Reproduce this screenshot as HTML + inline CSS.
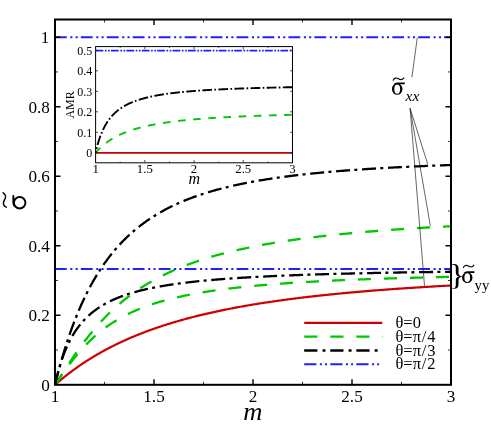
<!DOCTYPE html>
<html><head><meta charset="utf-8"><title>chart</title>
<style>html,body{margin:0;padding:0;background:#fff}svg{display:block;will-change:transform;opacity:0.999}</style></head>
<body>
<svg width="491" height="434" viewBox="0 0 491 434">
<rect width="100%" height="100%" fill="#fff"/>
<defs><clipPath id="cm"><rect x="55.00" y="19.50" width="396.00" height="365.30"/></clipPath>
<clipPath id="ci"><rect x="95.60" y="46.60" width="197.40" height="116.20"/></clipPath></defs>
<g clip-path="url(#cm)" fill="none" stroke-linecap="butt" stroke-linejoin="round">
<path d="M55.00,384.80 L55.03,384.78 L55.08,384.73 L55.16,384.66 L55.25,384.58 L55.36,384.49 L55.48,384.38 L55.61,384.26 L55.76,384.14 L55.91,384.00 L56.08,383.86 L56.26,383.70 L56.45,383.54 L56.65,383.37 L56.85,383.19 L57.07,383.00 L57.30,382.81 L57.53,382.61 L57.77,382.40 L58.02,382.19 L58.28,381.97 L58.55,381.74 L58.82,381.51 L59.10,381.27 L59.39,381.03 L59.69,380.78 L59.99,380.53 L60.30,380.27 L60.62,380.00 L60.95,379.73 L61.28,379.46 L61.62,379.18 L61.96,378.90 L62.31,378.61 L62.67,378.32 L63.03,378.03 L63.40,377.73 L63.78,377.42 L64.16,377.12 L64.55,376.81 L64.95,376.49 L65.35,376.17 L65.75,375.85 L66.17,375.53 L66.59,375.20 L67.01,374.87 L67.44,374.54 L67.88,374.20 L68.32,373.86 L68.76,373.52 L69.22,373.17 L69.67,372.82 L70.14,372.47 L70.60,372.12 L71.08,371.77 L71.56,371.41 L72.04,371.05 L72.53,370.69 L73.03,370.32 L73.53,369.96 L74.03,369.59 L74.54,369.22 L75.06,368.85 L75.58,368.48 L76.10,368.10 L76.63,367.73 L77.17,367.35 L77.70,366.97 L78.25,366.59 L78.80,366.21 L79.35,365.82 L79.91,365.44 L80.48,365.06 L81.04,364.67 L81.62,364.28 L82.20,363.89 L82.78,363.50 L83.37,363.11 L83.96,362.72 L84.55,362.33 L85.15,361.94 L85.76,361.54 L86.37,361.15 L86.98,360.75 L87.60,360.36 L88.23,359.96 L88.85,359.57 L89.48,359.17 L90.12,358.78 L90.76,358.38 L91.41,357.98 L92.06,357.58 L92.71,357.19 L93.37,356.79 L94.03,356.39 L94.70,355.99 L95.37,355.60 L96.04,355.20 L96.72,354.80 L97.40,354.40 L98.09,354.01 L98.78,353.61 L99.48,353.21 L100.18,352.81 L100.88,352.42 L101.59,352.02 L102.30,351.63 L103.02,351.23 L103.74,350.84 L104.46,350.44 L105.19,350.05 L105.92,349.65 L106.66,349.26 L107.40,348.87 L108.14,348.48 L108.89,348.09 L109.64,347.70 L110.40,347.31 L111.16,346.92 L111.92,346.53 L112.69,346.14 L113.46,345.75 L114.23,345.37 L115.01,344.98 L115.80,344.60 L116.58,344.22 L117.37,343.83 L118.17,343.45 L118.96,343.07 L119.77,342.69 L120.57,342.31 L121.38,341.94 L122.19,341.56 L123.01,341.18 L123.83,340.81 L124.65,340.43 L125.48,340.06 L126.31,339.69 L127.14,339.32 L127.98,338.95 L128.83,338.58 L129.67,338.22 L130.52,337.85 L131.37,337.49 L132.23,337.12 L133.09,336.76 L133.95,336.40 L134.82,336.04 L135.69,335.68 L136.56,335.33 L137.44,334.97 L138.32,334.62 L139.21,334.26 L140.10,333.91 L140.99,333.56 L141.88,333.21 L142.78,332.86 L143.68,332.52 L144.59,332.17 L145.50,331.83 L146.41,331.48 L147.33,331.14 L148.24,330.80 L149.17,330.47 L150.09,330.13 L151.02,329.79 L151.96,329.46 L152.89,329.13 L153.83,328.79 L154.77,328.46 L155.72,328.14 L156.67,327.81 L157.62,327.48 L158.58,327.16 L159.54,326.84 L160.50,326.52 L161.47,326.20 L162.44,325.88 L163.41,325.56 L164.39,325.25 L165.37,324.93 L166.35,324.62 L167.33,324.31 L168.32,324.00 L169.32,323.69 L170.31,323.38 L171.31,323.08 L172.31,322.77 L173.32,322.47 L174.33,322.17 L175.34,321.87 L176.35,321.57 L177.37,321.28 L178.39,320.98 L179.42,320.69 L180.45,320.40 L181.48,320.11 L182.51,319.82 L183.55,319.53 L184.59,319.24 L185.63,318.96 L186.68,318.68 L187.73,318.40 L188.78,318.12 L189.84,317.84 L190.90,317.56 L191.96,317.28 L193.02,317.01 L194.09,316.74 L195.16,316.46 L196.24,316.19 L197.32,315.93 L198.40,315.66 L199.48,315.39 L200.57,315.13 L201.66,314.87 L202.75,314.61 L203.85,314.35 L204.94,314.09 L206.05,313.83 L207.15,313.57 L208.26,313.32 L209.37,313.07 L210.48,312.82 L211.60,312.57 L212.72,312.32 L213.84,312.07 L214.97,311.82 L216.10,311.58 L217.23,311.34 L218.37,311.09 L219.50,310.85 L220.65,310.61 L221.79,310.38 L222.94,310.14 L224.09,309.91 L225.24,309.67 L226.39,309.44 L227.55,309.21 L228.71,308.98 L229.88,308.75 L231.05,308.52 L232.22,308.30 L233.39,308.07 L234.57,307.85 L235.74,307.63 L236.93,307.41 L238.11,307.19 L239.30,306.97 L240.49,306.76 L241.68,306.54 L242.88,306.33 L244.08,306.11 L245.28,305.90 L246.48,305.69 L247.69,305.48 L248.90,305.28 L250.12,305.07 L251.33,304.86 L252.55,304.66 L253.77,304.46 L255.00,304.25 L256.22,304.05 L257.45,303.86 L258.69,303.66 L259.92,303.46 L261.16,303.26 L262.40,303.07 L263.65,302.88 L264.90,302.68 L266.15,302.49 L267.40,302.30 L268.65,302.12 L269.91,301.93 L271.17,301.74 L272.44,301.56 L273.70,301.37 L274.97,301.19 L276.24,301.01 L277.52,300.83 L278.80,300.65 L280.08,300.47 L281.36,300.29 L282.64,300.11 L283.93,299.94 L285.22,299.76 L286.52,299.59 L287.81,299.42 L289.11,299.25 L290.42,299.08 L291.72,298.91 L293.03,298.74 L294.34,298.57 L295.65,298.41 L296.97,298.24 L298.28,298.08 L299.61,297.92 L300.93,297.75 L302.26,297.59 L303.58,297.43 L304.92,297.28 L306.25,297.12 L307.59,296.96 L308.93,296.80 L310.27,296.65 L311.61,296.50 L312.96,296.34 L314.31,296.19 L315.66,296.04 L317.02,295.89 L318.38,295.74 L319.74,295.59 L321.10,295.44 L322.47,295.30 L323.84,295.15 L325.21,295.01 L326.58,294.86 L327.96,294.72 L329.34,294.58 L330.72,294.44 L332.10,294.30 L333.49,294.16 L334.88,294.02 L336.27,293.88 L337.66,293.74 L339.06,293.61 L340.46,293.47 L341.86,293.34 L343.27,293.21 L344.68,293.07 L346.09,292.94 L347.50,292.81 L348.91,292.68 L350.33,292.55 L351.75,292.42 L353.17,292.29 L354.60,292.17 L356.03,292.04 L357.46,291.92 L358.89,291.79 L360.33,291.67 L361.77,291.54 L363.21,291.42 L364.65,291.30 L366.09,291.18 L367.54,291.06 L368.99,290.94 L370.45,290.82 L371.90,290.70 L373.36,290.59 L374.82,290.47 L376.29,290.36 L377.75,290.24 L379.22,290.13 L380.69,290.01 L382.16,289.90 L383.64,289.79 L385.12,289.68 L386.60,289.57 L388.08,289.46 L389.57,289.35 L391.06,289.24 L392.55,289.13 L394.04,289.02 L395.53,288.92 L397.03,288.81 L398.53,288.70 L400.04,288.60 L401.54,288.50 L403.05,288.39 L404.56,288.29 L406.07,288.19 L407.59,288.09 L409.11,287.99 L410.63,287.89 L412.15,287.79 L413.67,287.69 L415.20,287.59 L416.73,287.49 L418.26,287.39 L419.80,287.30 L421.34,287.20 L422.88,287.11 L424.42,287.01 L425.96,286.92 L427.51,286.82 L429.06,286.73 L430.61,286.64 L432.16,286.55 L433.72,286.45 L435.28,286.36 L436.84,286.27 L438.40,286.18 L439.97,286.09 L441.54,286.01 L443.11,285.92 L444.68,285.83 L446.26,285.74 L447.84,285.66 L449.42,285.57 L451.00,285.49" stroke="#cc0000" stroke-width="2.2"/>
<path d="M55.00,384.80 L55.03,384.76 L55.08,384.68 L55.16,384.56 L55.25,384.42 L55.36,384.26 L55.48,384.08 L55.61,383.87 L55.76,383.65 L55.91,383.42 L56.08,383.16 L56.26,382.89 L56.45,382.60 L56.65,382.30 L56.85,381.98 L57.07,381.65 L57.30,381.31 L57.53,380.95 L57.77,380.58 L58.02,380.20 L58.28,379.80 L58.55,379.39 L58.82,378.97 L59.10,378.54 L59.39,378.09 L59.69,377.64 L59.99,377.17 L60.30,376.69 L60.62,376.20 L60.95,375.70 L61.28,375.19 L61.62,374.67 L61.96,374.14 L62.31,373.59 L62.67,373.04 L63.03,372.48 L63.40,371.91 L63.78,371.33 L64.16,370.75 L64.55,370.15 L64.95,369.54 L65.35,368.93 L65.75,368.31 L66.17,367.68 L66.59,367.04 L67.01,366.40 L67.44,365.74 L67.88,365.08 L68.32,364.42 L68.76,363.74 L69.22,363.06 L69.67,362.37 L70.14,361.68 L70.60,360.98 L71.08,360.28 L71.56,359.57 L72.04,358.85 L72.53,358.13 L73.03,357.40 L73.53,356.67 L74.03,355.93 L74.54,355.19 L75.06,354.45 L75.58,353.70 L76.10,352.95 L76.63,352.19 L77.17,351.43 L77.70,350.67 L78.25,349.91 L78.80,349.14 L79.35,348.37 L79.91,347.59 L80.48,346.82 L81.04,346.04 L81.62,345.26 L82.20,344.48 L82.78,343.69 L83.37,342.91 L83.96,342.12 L84.55,341.34 L85.15,340.55 L85.76,339.76 L86.37,338.97 L86.98,338.18 L87.60,337.39 L88.23,336.60 L88.85,335.81 L89.48,335.02 L90.12,334.23 L90.76,333.44 L91.41,332.65 L92.06,331.87 L92.71,331.08 L93.37,330.30 L94.03,329.51 L94.70,328.73 L95.37,327.95 L96.04,327.17 L96.72,326.39 L97.40,325.61 L98.09,324.84 L98.78,324.07 L99.48,323.30 L100.18,322.53 L100.88,321.76 L101.59,321.00 L102.30,320.24 L103.02,319.48 L103.74,318.73 L104.46,317.97 L105.19,317.22 L105.92,316.48 L106.66,315.73 L107.40,314.99 L108.14,314.25 L108.89,313.52 L109.64,312.79 L110.40,312.06 L111.16,311.33 L111.92,310.61 L112.69,309.90 L113.46,309.18 L114.23,308.47 L115.01,307.76 L115.80,307.06 L116.58,306.36 L117.37,305.67 L118.17,304.97 L118.96,304.29 L119.77,303.60 L120.57,302.92 L121.38,302.25 L122.19,301.57 L123.01,300.91 L123.83,300.24 L124.65,299.58 L125.48,298.93 L126.31,298.27 L127.14,297.63 L127.98,296.98 L128.83,296.34 L129.67,295.71 L130.52,295.08 L131.37,294.45 L132.23,293.83 L133.09,293.21 L133.95,292.60 L134.82,291.98 L135.69,291.38 L136.56,290.78 L137.44,290.18 L138.32,289.59 L139.21,289.00 L140.10,288.41 L140.99,287.83 L141.88,287.26 L142.78,286.68 L143.68,286.12 L144.59,285.55 L145.50,284.99 L146.41,284.44 L147.33,283.88 L148.24,283.34 L149.17,282.79 L150.09,282.26 L151.02,281.72 L151.96,281.19 L152.89,280.66 L153.83,280.14 L154.77,279.62 L155.72,279.11 L156.67,278.60 L157.62,278.09 L158.58,277.59 L159.54,277.09 L160.50,276.59 L161.47,276.10 L162.44,275.62 L163.41,275.13 L164.39,274.65 L165.37,274.18 L166.35,273.71 L167.33,273.24 L168.32,272.78 L169.32,272.31 L170.31,271.86 L171.31,271.41 L172.31,270.96 L173.32,270.51 L174.33,270.07 L175.34,269.63 L176.35,269.20 L177.37,268.77 L178.39,268.34 L179.42,267.91 L180.45,267.49 L181.48,267.08 L182.51,266.66 L183.55,266.25 L184.59,265.85 L185.63,265.44 L186.68,265.04 L187.73,264.65 L188.78,264.25 L189.84,263.86 L190.90,263.48 L191.96,263.09 L193.02,262.71 L194.09,262.34 L195.16,261.96 L196.24,261.59 L197.32,261.22 L198.40,260.86 L199.48,260.50 L200.57,260.14 L201.66,259.78 L202.75,259.43 L203.85,259.08 L204.94,258.74 L206.05,258.39 L207.15,258.05 L208.26,257.71 L209.37,257.38 L210.48,257.05 L211.60,256.72 L212.72,256.39 L213.84,256.07 L214.97,255.75 L216.10,255.43 L217.23,255.11 L218.37,254.80 L219.50,254.49 L220.65,254.18 L221.79,253.88 L222.94,253.57 L224.09,253.27 L225.24,252.98 L226.39,252.68 L227.55,252.39 L228.71,252.10 L229.88,251.81 L231.05,251.53 L232.22,251.24 L233.39,250.96 L234.57,250.68 L235.74,250.41 L236.93,250.14 L238.11,249.86 L239.30,249.60 L240.49,249.33 L241.68,249.06 L242.88,248.80 L244.08,248.54 L245.28,248.29 L246.48,248.03 L247.69,247.78 L248.90,247.53 L250.12,247.28 L251.33,247.03 L252.55,246.78 L253.77,246.54 L255.00,246.30 L256.22,246.06 L257.45,245.82 L258.69,245.59 L259.92,245.36 L261.16,245.12 L262.40,244.90 L263.65,244.67 L264.90,244.44 L266.15,244.22 L267.40,244.00 L268.65,243.78 L269.91,243.56 L271.17,243.34 L272.44,243.13 L273.70,242.92 L274.97,242.71 L276.24,242.50 L277.52,242.29 L278.80,242.08 L280.08,241.88 L281.36,241.68 L282.64,241.48 L283.93,241.28 L285.22,241.08 L286.52,240.88 L287.81,240.69 L289.11,240.50 L290.42,240.31 L291.72,240.12 L293.03,239.93 L294.34,239.74 L295.65,239.56 L296.97,239.37 L298.28,239.19 L299.61,239.01 L300.93,238.83 L302.26,238.65 L303.58,238.48 L304.92,238.30 L306.25,238.13 L307.59,237.96 L308.93,237.79 L310.27,237.62 L311.61,237.45 L312.96,237.28 L314.31,237.12 L315.66,236.95 L317.02,236.79 L318.38,236.63 L319.74,236.47 L321.10,236.31 L322.47,236.15 L323.84,236.00 L325.21,235.84 L326.58,235.69 L327.96,235.54 L329.34,235.39 L330.72,235.24 L332.10,235.09 L333.49,234.94 L334.88,234.79 L336.27,234.65 L337.66,234.50 L339.06,234.36 L340.46,234.22 L341.86,234.08 L343.27,233.94 L344.68,233.80 L346.09,233.66 L347.50,233.52 L348.91,233.39 L350.33,233.25 L351.75,233.12 L353.17,232.99 L354.60,232.86 L356.03,232.73 L357.46,232.60 L358.89,232.47 L360.33,232.34 L361.77,232.21 L363.21,232.09 L364.65,231.96 L366.09,231.84 L367.54,231.72 L368.99,231.60 L370.45,231.48 L371.90,231.36 L373.36,231.24 L374.82,231.12 L376.29,231.00 L377.75,230.88 L379.22,230.77 L380.69,230.65 L382.16,230.54 L383.64,230.43 L385.12,230.32 L386.60,230.21 L388.08,230.10 L389.57,229.99 L391.06,229.88 L392.55,229.77 L394.04,229.66 L395.53,229.56 L397.03,229.45 L398.53,229.35 L400.04,229.24 L401.54,229.14 L403.05,229.04 L404.56,228.94 L406.07,228.83 L407.59,228.73 L409.11,228.63 L410.63,228.54 L412.15,228.44 L413.67,228.34 L415.20,228.24 L416.73,228.15 L418.26,228.05 L419.80,227.96 L421.34,227.87 L422.88,227.77 L424.42,227.68 L425.96,227.59 L427.51,227.50 L429.06,227.41 L430.61,227.32 L432.16,227.23 L433.72,227.14 L435.28,227.05 L436.84,226.97 L438.40,226.88 L439.97,226.79 L441.54,226.71 L443.11,226.62 L444.68,226.54 L446.26,226.46 L447.84,226.37 L449.42,226.29 L451.00,226.21" stroke="#00c800" stroke-width="2.3" stroke-dasharray="13 13"/>
<path d="M55.00,384.80 L55.03,384.76 L55.08,384.68 L55.16,384.57 L55.25,384.44 L55.36,384.29 L55.48,384.11 L55.61,383.92 L55.76,383.71 L55.91,383.49 L56.08,383.25 L56.26,382.99 L56.45,382.72 L56.65,382.43 L56.85,382.13 L57.07,381.82 L57.30,381.50 L57.53,381.16 L57.77,380.81 L58.02,380.45 L58.28,380.08 L58.55,379.69 L58.82,379.30 L59.10,378.89 L59.39,378.48 L59.69,378.05 L59.99,377.61 L60.30,377.17 L60.62,376.71 L60.95,376.24 L61.28,375.77 L61.62,375.29 L61.96,374.79 L62.31,374.29 L62.67,373.79 L63.03,373.27 L63.40,372.75 L63.78,372.21 L64.16,371.68 L64.55,371.13 L64.95,370.58 L65.35,370.02 L65.75,369.45 L66.17,368.88 L66.59,368.31 L67.01,367.72 L67.44,367.14 L67.88,366.54 L68.32,365.95 L68.76,365.34 L69.22,364.74 L69.67,364.13 L70.14,363.51 L70.60,362.89 L71.08,362.27 L71.56,361.65 L72.04,361.02 L72.53,360.39 L73.03,359.75 L73.53,359.12 L74.03,358.48 L74.54,357.84 L75.06,357.20 L75.58,356.56 L76.10,355.91 L76.63,355.27 L77.17,354.62 L77.70,353.98 L78.25,353.33 L78.80,352.68 L79.35,352.04 L79.91,351.39 L80.48,350.74 L81.04,350.10 L81.62,349.45 L82.20,348.81 L82.78,348.17 L83.37,347.52 L83.96,346.88 L84.55,346.24 L85.15,345.61 L85.76,344.97 L86.37,344.34 L86.98,343.71 L87.60,343.08 L88.23,342.45 L88.85,341.82 L89.48,341.20 L90.12,340.58 L90.76,339.97 L91.41,339.35 L92.06,338.74 L92.71,338.13 L93.37,337.53 L94.03,336.93 L94.70,336.33 L95.37,335.74 L96.04,335.15 L96.72,334.56 L97.40,333.97 L98.09,333.39 L98.78,332.82 L99.48,332.25 L100.18,331.68 L100.88,331.11 L101.59,330.55 L102.30,330.00 L103.02,329.44 L103.74,328.90 L104.46,328.35 L105.19,327.81 L105.92,327.28 L106.66,326.75 L107.40,326.22 L108.14,325.70 L108.89,325.18 L109.64,324.66 L110.40,324.15 L111.16,323.65 L111.92,323.15 L112.69,322.65 L113.46,322.16 L114.23,321.67 L115.01,321.19 L115.80,320.71 L116.58,320.23 L117.37,319.76 L118.17,319.30 L118.96,318.84 L119.77,318.38 L120.57,317.92 L121.38,317.48 L122.19,317.03 L123.01,316.59 L123.83,316.16 L124.65,315.72 L125.48,315.30 L126.31,314.87 L127.14,314.45 L127.98,314.04 L128.83,313.63 L129.67,313.22 L130.52,312.82 L131.37,312.42 L132.23,312.03 L133.09,311.64 L133.95,311.25 L134.82,310.87 L135.69,310.49 L136.56,310.12 L137.44,309.74 L138.32,309.38 L139.21,309.01 L140.10,308.66 L140.99,308.30 L141.88,307.95 L142.78,307.60 L143.68,307.26 L144.59,306.92 L145.50,306.58 L146.41,306.25 L147.33,305.92 L148.24,305.59 L149.17,305.27 L150.09,304.95 L151.02,304.63 L151.96,304.32 L152.89,304.01 L153.83,303.70 L154.77,303.40 L155.72,303.10 L156.67,302.81 L157.62,302.51 L158.58,302.22 L159.54,301.94 L160.50,301.65 L161.47,301.37 L162.44,301.09 L163.41,300.82 L164.39,300.55 L165.37,300.28 L166.35,300.01 L167.33,299.75 L168.32,299.49 L169.32,299.23 L170.31,298.98 L171.31,298.73 L172.31,298.48 L173.32,298.23 L174.33,297.99 L175.34,297.75 L176.35,297.51 L177.37,297.27 L178.39,297.04 L179.42,296.81 L180.45,296.58 L181.48,296.36 L182.51,296.13 L183.55,295.91 L184.59,295.69 L185.63,295.48 L186.68,295.26 L187.73,295.05 L188.78,294.84 L189.84,294.63 L190.90,294.43 L191.96,294.23 L193.02,294.03 L194.09,293.83 L195.16,293.63 L196.24,293.44 L197.32,293.25 L198.40,293.06 L199.48,292.87 L200.57,292.68 L201.66,292.50 L202.75,292.31 L203.85,292.13 L204.94,291.96 L206.05,291.78 L207.15,291.60 L208.26,291.43 L209.37,291.26 L210.48,291.09 L211.60,290.92 L212.72,290.76 L213.84,290.59 L214.97,290.43 L216.10,290.27 L217.23,290.11 L218.37,289.96 L219.50,289.80 L220.65,289.65 L221.79,289.49 L222.94,289.34 L224.09,289.19 L225.24,289.05 L226.39,288.90 L227.55,288.75 L228.71,288.61 L229.88,288.47 L231.05,288.33 L232.22,288.19 L233.39,288.05 L234.57,287.92 L235.74,287.78 L236.93,287.65 L238.11,287.52 L239.30,287.39 L240.49,287.26 L241.68,287.13 L242.88,287.00 L244.08,286.88 L245.28,286.75 L246.48,286.63 L247.69,286.51 L248.90,286.39 L250.12,286.27 L251.33,286.15 L252.55,286.03 L253.77,285.92 L255.00,285.80 L256.22,285.69 L257.45,285.57 L258.69,285.46 L259.92,285.35 L261.16,285.24 L262.40,285.14 L263.65,285.03 L264.90,284.92 L266.15,284.82 L267.40,284.71 L268.65,284.61 L269.91,284.51 L271.17,284.41 L272.44,284.31 L273.70,284.21 L274.97,284.11 L276.24,284.01 L277.52,283.92 L278.80,283.82 L280.08,283.73 L281.36,283.63 L282.64,283.54 L283.93,283.45 L285.22,283.36 L286.52,283.27 L287.81,283.18 L289.11,283.09 L290.42,283.00 L291.72,282.91 L293.03,282.83 L294.34,282.74 L295.65,282.66 L296.97,282.58 L298.28,282.49 L299.61,282.41 L300.93,282.33 L302.26,282.25 L303.58,282.17 L304.92,282.09 L306.25,282.01 L307.59,281.93 L308.93,281.86 L310.27,281.78 L311.61,281.71 L312.96,281.63 L314.31,281.56 L315.66,281.48 L317.02,281.41 L318.38,281.34 L319.74,281.27 L321.10,281.20 L322.47,281.13 L323.84,281.06 L325.21,280.99 L326.58,280.92 L327.96,280.85 L329.34,280.78 L330.72,280.72 L332.10,280.65 L333.49,280.59 L334.88,280.52 L336.27,280.46 L337.66,280.39 L339.06,280.33 L340.46,280.27 L341.86,280.20 L343.27,280.14 L344.68,280.08 L346.09,280.02 L347.50,279.96 L348.91,279.90 L350.33,279.84 L351.75,279.78 L353.17,279.73 L354.60,279.67 L356.03,279.61 L357.46,279.56 L358.89,279.50 L360.33,279.44 L361.77,279.39 L363.21,279.34 L364.65,279.28 L366.09,279.23 L367.54,279.17 L368.99,279.12 L370.45,279.07 L371.90,279.02 L373.36,278.97 L374.82,278.92 L376.29,278.86 L377.75,278.81 L379.22,278.76 L380.69,278.72 L382.16,278.67 L383.64,278.62 L385.12,278.57 L386.60,278.52 L388.08,278.48 L389.57,278.43 L391.06,278.38 L392.55,278.34 L394.04,278.29 L395.53,278.24 L397.03,278.20 L398.53,278.16 L400.04,278.11 L401.54,278.07 L403.05,278.02 L404.56,277.98 L406.07,277.94 L407.59,277.89 L409.11,277.85 L410.63,277.81 L412.15,277.77 L413.67,277.73 L415.20,277.69 L416.73,277.65 L418.26,277.61 L419.80,277.57 L421.34,277.53 L422.88,277.49 L424.42,277.45 L425.96,277.41 L427.51,277.37 L429.06,277.33 L430.61,277.30 L432.16,277.26 L433.72,277.22 L435.28,277.18 L436.84,277.15 L438.40,277.11 L439.97,277.08 L441.54,277.04 L443.11,277.00 L444.68,276.97 L446.26,276.93 L447.84,276.90 L449.42,276.87 L451.00,276.83" stroke="#00c800" stroke-width="2.3" stroke-dasharray="13 13" stroke-dashoffset="1"/>
<path d="M55.00,384.80 L55.03,384.69 L55.08,384.46 L55.16,384.16 L55.25,383.78 L55.36,383.34 L55.48,382.85 L55.61,382.31 L55.76,381.73 L55.91,381.10 L56.08,380.42 L56.26,379.71 L56.45,378.97 L56.65,378.19 L56.85,377.38 L57.07,376.53 L57.30,375.66 L57.53,374.76 L57.77,373.83 L58.02,372.87 L58.28,371.89 L58.55,370.89 L58.82,369.87 L59.10,368.82 L59.39,367.75 L59.69,366.67 L59.99,365.57 L60.30,364.45 L60.62,363.31 L60.95,362.16 L61.28,360.99 L61.62,359.81 L61.96,358.61 L62.31,357.41 L62.67,356.19 L63.03,354.96 L63.40,353.72 L63.78,352.47 L64.16,351.21 L64.55,349.94 L64.95,348.67 L65.35,347.38 L65.75,346.10 L66.17,344.80 L66.59,343.50 L67.01,342.19 L67.44,340.88 L67.88,339.57 L68.32,338.25 L68.76,336.93 L69.22,335.61 L69.67,334.28 L70.14,332.96 L70.60,331.63 L71.08,330.30 L71.56,328.97 L72.04,327.64 L72.53,326.31 L73.03,324.98 L73.53,323.65 L74.03,322.33 L74.54,321.00 L75.06,319.68 L75.58,318.36 L76.10,317.04 L76.63,315.72 L77.17,314.41 L77.70,313.10 L78.25,311.79 L78.80,310.49 L79.35,309.19 L79.91,307.90 L80.48,306.61 L81.04,305.33 L81.62,304.05 L82.20,302.77 L82.78,301.50 L83.37,300.24 L83.96,298.98 L84.55,297.73 L85.15,296.48 L85.76,295.24 L86.37,294.00 L86.98,292.78 L87.60,291.56 L88.23,290.34 L88.85,289.13 L89.48,287.93 L90.12,286.74 L90.76,285.55 L91.41,284.37 L92.06,283.20 L92.71,282.03 L93.37,280.87 L94.03,279.72 L94.70,278.58 L95.37,277.44 L96.04,276.32 L96.72,275.20 L97.40,274.08 L98.09,272.98 L98.78,271.88 L99.48,270.80 L100.18,269.72 L100.88,268.64 L101.59,267.58 L102.30,266.52 L103.02,265.47 L103.74,264.43 L104.46,263.40 L105.19,262.38 L105.92,261.36 L106.66,260.35 L107.40,259.35 L108.14,258.36 L108.89,257.38 L109.64,256.40 L110.40,255.43 L111.16,254.48 L111.92,253.52 L112.69,252.58 L113.46,251.65 L114.23,250.72 L115.01,249.80 L115.80,248.89 L116.58,247.99 L117.37,247.09 L118.17,246.21 L118.96,245.33 L119.77,244.46 L120.57,243.60 L121.38,242.74 L122.19,241.89 L123.01,241.05 L123.83,240.22 L124.65,239.40 L125.48,238.58 L126.31,237.77 L127.14,236.97 L127.98,236.18 L128.83,235.39 L129.67,234.61 L130.52,233.84 L131.37,233.08 L132.23,232.32 L133.09,231.57 L133.95,230.83 L134.82,230.10 L135.69,229.37 L136.56,228.65 L137.44,227.94 L138.32,227.23 L139.21,226.53 L140.10,225.84 L140.99,225.15 L141.88,224.47 L142.78,223.80 L143.68,223.14 L144.59,222.48 L145.50,221.83 L146.41,221.18 L147.33,220.54 L148.24,219.91 L149.17,219.29 L150.09,218.67 L151.02,218.05 L151.96,217.45 L152.89,216.85 L153.83,216.25 L154.77,215.66 L155.72,215.08 L156.67,214.51 L157.62,213.93 L158.58,213.37 L159.54,212.81 L160.50,212.26 L161.47,211.71 L162.44,211.17 L163.41,210.64 L164.39,210.11 L165.37,209.58 L166.35,209.06 L167.33,208.55 L168.32,208.04 L169.32,207.54 L170.31,207.04 L171.31,206.55 L172.31,206.06 L173.32,205.58 L174.33,205.10 L175.34,204.63 L176.35,204.16 L177.37,203.70 L178.39,203.24 L179.42,202.79 L180.45,202.34 L181.48,201.90 L182.51,201.46 L183.55,201.03 L184.59,200.60 L185.63,200.18 L186.68,199.76 L187.73,199.34 L188.78,198.93 L189.84,198.53 L190.90,198.12 L191.96,197.73 L193.02,197.33 L194.09,196.94 L195.16,196.56 L196.24,196.18 L197.32,195.80 L198.40,195.43 L199.48,195.06 L200.57,194.69 L201.66,194.33 L202.75,193.98 L203.85,193.62 L204.94,193.27 L206.05,192.93 L207.15,192.59 L208.26,192.25 L209.37,191.91 L210.48,191.58 L211.60,191.25 L212.72,190.93 L213.84,190.61 L214.97,190.29 L216.10,189.98 L217.23,189.67 L218.37,189.36 L219.50,189.06 L220.65,188.76 L221.79,188.46 L222.94,188.17 L224.09,187.87 L225.24,187.59 L226.39,187.30 L227.55,187.02 L228.71,186.74 L229.88,186.47 L231.05,186.19 L232.22,185.92 L233.39,185.66 L234.57,185.39 L235.74,185.13 L236.93,184.87 L238.11,184.61 L239.30,184.36 L240.49,184.11 L241.68,183.86 L242.88,183.62 L244.08,183.38 L245.28,183.14 L246.48,182.90 L247.69,182.66 L248.90,182.43 L250.12,182.20 L251.33,181.97 L252.55,181.75 L253.77,181.53 L255.00,181.30 L256.22,181.09 L257.45,180.87 L258.69,180.66 L259.92,180.45 L261.16,180.24 L262.40,180.03 L263.65,179.83 L264.90,179.62 L266.15,179.42 L267.40,179.22 L268.65,179.03 L269.91,178.83 L271.17,178.64 L272.44,178.45 L273.70,178.26 L274.97,178.08 L276.24,177.89 L277.52,177.71 L278.80,177.53 L280.08,177.35 L281.36,177.17 L282.64,177.00 L283.93,176.83 L285.22,176.66 L286.52,176.49 L287.81,176.32 L289.11,176.15 L290.42,175.99 L291.72,175.83 L293.03,175.66 L294.34,175.51 L295.65,175.35 L296.97,175.19 L298.28,175.04 L299.61,174.88 L300.93,174.73 L302.26,174.58 L303.58,174.43 L304.92,174.29 L306.25,174.14 L307.59,174.00 L308.93,173.86 L310.27,173.72 L311.61,173.58 L312.96,173.44 L314.31,173.30 L315.66,173.17 L317.02,173.03 L318.38,172.90 L319.74,172.77 L321.10,172.64 L322.47,172.51 L323.84,172.38 L325.21,172.26 L326.58,172.13 L327.96,172.01 L329.34,171.89 L330.72,171.77 L332.10,171.65 L333.49,171.53 L334.88,171.41 L336.27,171.29 L337.66,171.18 L339.06,171.06 L340.46,170.95 L341.86,170.84 L343.27,170.73 L344.68,170.62 L346.09,170.51 L347.50,170.40 L348.91,170.30 L350.33,170.19 L351.75,170.09 L353.17,169.98 L354.60,169.88 L356.03,169.78 L357.46,169.68 L358.89,169.58 L360.33,169.48 L361.77,169.38 L363.21,169.29 L364.65,169.19 L366.09,169.10 L367.54,169.00 L368.99,168.91 L370.45,168.82 L371.90,168.73 L373.36,168.64 L374.82,168.55 L376.29,168.46 L377.75,168.37 L379.22,168.29 L380.69,168.20 L382.16,168.11 L383.64,168.03 L385.12,167.95 L386.60,167.86 L388.08,167.78 L389.57,167.70 L391.06,167.62 L392.55,167.54 L394.04,167.46 L395.53,167.38 L397.03,167.31 L398.53,167.23 L400.04,167.15 L401.54,167.08 L403.05,167.00 L404.56,166.93 L406.07,166.86 L407.59,166.78 L409.11,166.71 L410.63,166.64 L412.15,166.57 L413.67,166.50 L415.20,166.43 L416.73,166.36 L418.26,166.29 L419.80,166.23 L421.34,166.16 L422.88,166.09 L424.42,166.03 L425.96,165.96 L427.51,165.90 L429.06,165.83 L430.61,165.77 L432.16,165.71 L433.72,165.65 L435.28,165.59 L436.84,165.52 L438.40,165.46 L439.97,165.40 L441.54,165.34 L443.11,165.29 L444.68,165.23 L446.26,165.17 L447.84,165.11 L449.42,165.06 L451.00,165.00" stroke="#000" stroke-width="2.3" stroke-dasharray="14 4.3 3 4.7"/>
<path d="M55.00,384.80 L55.03,384.68 L55.08,384.43 L55.16,384.09 L55.25,383.67 L55.36,383.19 L55.48,382.66 L55.61,382.07 L55.76,381.44 L55.91,380.76 L56.08,380.05 L56.26,379.30 L56.45,378.52 L56.65,377.71 L56.85,376.87 L57.07,376.01 L57.30,375.13 L57.53,374.22 L57.77,373.30 L58.02,372.36 L58.28,371.41 L58.55,370.44 L58.82,369.47 L59.10,368.48 L59.39,367.49 L59.69,366.49 L59.99,365.48 L60.30,364.47 L60.62,363.46 L60.95,362.44 L61.28,361.42 L61.62,360.40 L61.96,359.39 L62.31,358.37 L62.67,357.36 L63.03,356.34 L63.40,355.34 L63.78,354.33 L64.16,353.33 L64.55,352.34 L64.95,351.35 L65.35,350.37 L65.75,349.39 L66.17,348.43 L66.59,347.47 L67.01,346.51 L67.44,345.57 L67.88,344.63 L68.32,343.70 L68.76,342.78 L69.22,341.87 L69.67,340.97 L70.14,340.07 L70.60,339.19 L71.08,338.32 L71.56,337.45 L72.04,336.60 L72.53,335.75 L73.03,334.91 L73.53,334.09 L74.03,333.27 L74.54,332.47 L75.06,331.67 L75.58,330.88 L76.10,330.11 L76.63,329.34 L77.17,328.58 L77.70,327.84 L78.25,327.10 L78.80,326.37 L79.35,325.65 L79.91,324.94 L80.48,324.25 L81.04,323.56 L81.62,322.88 L82.20,322.20 L82.78,321.54 L83.37,320.89 L83.96,320.25 L84.55,319.61 L85.15,318.98 L85.76,318.37 L86.37,317.76 L86.98,317.16 L87.60,316.57 L88.23,315.98 L88.85,315.41 L89.48,314.84 L90.12,314.28 L90.76,313.73 L91.41,313.19 L92.06,312.65 L92.71,312.12 L93.37,311.60 L94.03,311.09 L94.70,310.58 L95.37,310.08 L96.04,309.59 L96.72,309.11 L97.40,308.63 L98.09,308.16 L98.78,307.69 L99.48,307.24 L100.18,306.78 L100.88,306.34 L101.59,305.90 L102.30,305.47 L103.02,305.04 L103.74,304.62 L104.46,304.21 L105.19,303.80 L105.92,303.40 L106.66,303.00 L107.40,302.61 L108.14,302.22 L108.89,301.84 L109.64,301.47 L110.40,301.10 L111.16,300.73 L111.92,300.38 L112.69,300.02 L113.46,299.67 L114.23,299.33 L115.01,298.99 L115.80,298.65 L116.58,298.32 L117.37,297.99 L118.17,297.67 L118.96,297.36 L119.77,297.04 L120.57,296.73 L121.38,296.43 L122.19,296.13 L123.01,295.83 L123.83,295.54 L124.65,295.25 L125.48,294.97 L126.31,294.69 L127.14,294.41 L127.98,294.14 L128.83,293.87 L129.67,293.60 L130.52,293.34 L131.37,293.08 L132.23,292.83 L133.09,292.57 L133.95,292.32 L134.82,292.08 L135.69,291.84 L136.56,291.60 L137.44,291.36 L138.32,291.13 L139.21,290.90 L140.10,290.67 L140.99,290.45 L141.88,290.23 L142.78,290.01 L143.68,289.79 L144.59,289.58 L145.50,289.37 L146.41,289.16 L147.33,288.96 L148.24,288.76 L149.17,288.56 L150.09,288.36 L151.02,288.16 L151.96,287.97 L152.89,287.78 L153.83,287.59 L154.77,287.41 L155.72,287.23 L156.67,287.05 L157.62,286.87 L158.58,286.69 L159.54,286.52 L160.50,286.35 L161.47,286.18 L162.44,286.01 L163.41,285.84 L164.39,285.68 L165.37,285.52 L166.35,285.36 L167.33,285.20 L168.32,285.04 L169.32,284.89 L170.31,284.74 L171.31,284.59 L172.31,284.44 L173.32,284.29 L174.33,284.14 L175.34,284.00 L176.35,283.86 L177.37,283.72 L178.39,283.58 L179.42,283.44 L180.45,283.31 L181.48,283.17 L182.51,283.04 L183.55,282.91 L184.59,282.78 L185.63,282.65 L186.68,282.53 L187.73,282.40 L188.78,282.28 L189.84,282.16 L190.90,282.04 L191.96,281.92 L193.02,281.80 L194.09,281.68 L195.16,281.57 L196.24,281.45 L197.32,281.34 L198.40,281.23 L199.48,281.12 L200.57,281.01 L201.66,280.90 L202.75,280.79 L203.85,280.69 L204.94,280.58 L206.05,280.48 L207.15,280.38 L208.26,280.28 L209.37,280.18 L210.48,280.08 L211.60,279.98 L212.72,279.88 L213.84,279.79 L214.97,279.69 L216.10,279.60 L217.23,279.51 L218.37,279.41 L219.50,279.32 L220.65,279.23 L221.79,279.14 L222.94,279.06 L224.09,278.97 L225.24,278.88 L226.39,278.80 L227.55,278.71 L228.71,278.63 L229.88,278.55 L231.05,278.47 L232.22,278.39 L233.39,278.31 L234.57,278.23 L235.74,278.15 L236.93,278.07 L238.11,277.99 L239.30,277.92 L240.49,277.84 L241.68,277.77 L242.88,277.69 L244.08,277.62 L245.28,277.55 L246.48,277.48 L247.69,277.40 L248.90,277.33 L250.12,277.27 L251.33,277.20 L252.55,277.13 L253.77,277.06 L255.00,276.99 L256.22,276.93 L257.45,276.86 L258.69,276.80 L259.92,276.73 L261.16,276.67 L262.40,276.61 L263.65,276.54 L264.90,276.48 L266.15,276.42 L267.40,276.36 L268.65,276.30 L269.91,276.24 L271.17,276.18 L272.44,276.12 L273.70,276.07 L274.97,276.01 L276.24,275.95 L277.52,275.90 L278.80,275.84 L280.08,275.79 L281.36,275.73 L282.64,275.68 L283.93,275.62 L285.22,275.57 L286.52,275.52 L287.81,275.47 L289.11,275.41 L290.42,275.36 L291.72,275.31 L293.03,275.26 L294.34,275.21 L295.65,275.16 L296.97,275.11 L298.28,275.07 L299.61,275.02 L300.93,274.97 L302.26,274.92 L303.58,274.88 L304.92,274.83 L306.25,274.79 L307.59,274.74 L308.93,274.69 L310.27,274.65 L311.61,274.61 L312.96,274.56 L314.31,274.52 L315.66,274.48 L317.02,274.43 L318.38,274.39 L319.74,274.35 L321.10,274.31 L322.47,274.27 L323.84,274.23 L325.21,274.19 L326.58,274.15 L327.96,274.11 L329.34,274.07 L330.72,274.03 L332.10,273.99 L333.49,273.95 L334.88,273.91 L336.27,273.87 L337.66,273.84 L339.06,273.80 L340.46,273.76 L341.86,273.73 L343.27,273.69 L344.68,273.66 L346.09,273.62 L347.50,273.58 L348.91,273.55 L350.33,273.51 L351.75,273.48 L353.17,273.45 L354.60,273.41 L356.03,273.38 L357.46,273.35 L358.89,273.31 L360.33,273.28 L361.77,273.25 L363.21,273.22 L364.65,273.18 L366.09,273.15 L367.54,273.12 L368.99,273.09 L370.45,273.06 L371.90,273.03 L373.36,273.00 L374.82,272.97 L376.29,272.94 L377.75,272.91 L379.22,272.88 L380.69,272.85 L382.16,272.82 L383.64,272.79 L385.12,272.77 L386.60,272.74 L388.08,272.71 L389.57,272.68 L391.06,272.65 L392.55,272.63 L394.04,272.60 L395.53,272.57 L397.03,272.55 L398.53,272.52 L400.04,272.49 L401.54,272.47 L403.05,272.44 L404.56,272.42 L406.07,272.39 L407.59,272.37 L409.11,272.34 L410.63,272.32 L412.15,272.29 L413.67,272.27 L415.20,272.24 L416.73,272.22 L418.26,272.20 L419.80,272.17 L421.34,272.15 L422.88,272.13 L424.42,272.10 L425.96,272.08 L427.51,272.06 L429.06,272.03 L430.61,272.01 L432.16,271.99 L433.72,271.97 L435.28,271.95 L436.84,271.92 L438.40,271.90 L439.97,271.88 L441.54,271.86 L443.11,271.84 L444.68,271.82 L446.26,271.80 L447.84,271.78 L449.42,271.76 L451.00,271.74" stroke="#000" stroke-width="2.3" stroke-dasharray="14 4.3 3 4.7"/>
<path d="M54.9,37.20 H452" stroke="#2020ff" stroke-width="2" stroke-dasharray="11.8 3.6 2.1 3.2 2.1 3.15"/>
<path d="M54.9,268.93 H452" stroke="#2020ff" stroke-width="2" stroke-dasharray="11.8 3.6 2.1 3.2 2.1 3.15"/>
</g>
<rect x="95.60" y="46.60" width="196.90" height="116.20" fill="#fff" stroke="none"/>
<g clip-path="url(#ci)" fill="none">
<path d="M95.60,152.80 H292.50" stroke="#cc0000" stroke-width="1.7"/>
<path d="M95.60,152.80 L95.61,152.78 L95.64,152.75 L95.68,152.71 L95.72,152.65 L95.78,152.59 L95.84,152.52 L95.90,152.45 L95.98,152.36 L96.05,152.27 L96.14,152.18 L96.23,152.08 L96.32,151.97 L96.42,151.86 L96.52,151.74 L96.63,151.62 L96.74,151.50 L96.86,151.37 L96.98,151.23 L97.10,151.10 L97.23,150.96 L97.36,150.81 L97.50,150.67 L97.64,150.52 L97.78,150.36 L97.93,150.21 L98.08,150.05 L98.24,149.89 L98.40,149.72 L98.56,149.56 L98.72,149.39 L98.89,149.22 L99.06,149.04 L99.24,148.87 L99.41,148.69 L99.59,148.51 L99.78,148.33 L99.97,148.15 L100.16,147.97 L100.35,147.78 L100.55,147.60 L100.75,147.41 L100.95,147.22 L101.15,147.03 L101.36,146.84 L101.57,146.65 L101.79,146.46 L102.00,146.27 L102.22,146.08 L102.44,145.88 L102.67,145.69 L102.90,145.49 L103.13,145.29 L103.36,145.10 L103.59,144.90 L103.83,144.71 L104.07,144.51 L104.32,144.31 L104.56,144.11 L104.81,143.92 L105.06,143.72 L105.32,143.52 L105.57,143.32 L105.83,143.12 L106.09,142.93 L106.36,142.73 L106.62,142.53 L106.89,142.34 L107.16,142.14 L107.43,141.94 L107.71,141.75 L107.99,141.55 L108.27,141.35 L108.55,141.16 L108.83,140.97 L109.12,140.77 L109.41,140.58 L109.70,140.38 L110.00,140.19 L110.29,140.00 L110.59,139.81 L110.89,139.62 L111.20,139.43 L111.50,139.24 L111.81,139.05 L112.12,138.86 L112.43,138.68 L112.75,138.49 L113.06,138.30 L113.38,138.12 L113.70,137.93 L114.03,137.75 L114.35,137.57 L114.68,137.39 L115.01,137.21 L115.34,137.03 L115.67,136.85 L116.01,136.67 L116.34,136.49 L116.68,136.32 L117.03,136.14 L117.37,135.97 L117.72,135.79 L118.06,135.62 L118.41,135.45 L118.77,135.28 L119.12,135.11 L119.48,134.94 L119.83,134.77 L120.19,134.60 L120.56,134.44 L120.92,134.27 L121.29,134.11 L121.65,133.95 L122.02,133.78 L122.40,133.62 L122.77,133.46 L123.15,133.30 L123.52,133.15 L123.90,132.99 L124.28,132.83 L124.67,132.68 L125.05,132.53 L125.44,132.37 L125.83,132.22 L126.22,132.07 L126.61,131.92 L127.01,131.77 L127.40,131.62 L127.80,131.48 L128.20,131.33 L128.61,131.19 L129.01,131.04 L129.42,130.90 L129.82,130.76 L130.23,130.62 L130.64,130.48 L131.06,130.34 L131.47,130.20 L131.89,130.06 L132.31,129.93 L132.73,129.79 L133.15,129.66 L133.57,129.53 L134.00,129.39 L134.43,129.26 L134.86,129.13 L135.29,129.00 L135.72,128.87 L136.16,128.75 L136.59,128.62 L137.03,128.50 L137.47,128.37 L137.91,128.25 L138.35,128.13 L138.80,128.00 L139.25,127.88 L139.69,127.76 L140.15,127.64 L140.60,127.53 L141.05,127.41 L141.51,127.29 L141.96,127.18 L142.42,127.06 L142.88,126.95 L143.34,126.84 L143.81,126.72 L144.27,126.61 L144.74,126.50 L145.21,126.39 L145.68,126.29 L146.15,126.18 L146.63,126.07 L147.10,125.97 L147.58,125.86 L148.06,125.76 L148.54,125.65 L149.02,125.55 L149.50,125.45 L149.99,125.35 L150.48,125.25 L150.97,125.15 L151.46,125.05 L151.95,124.95 L152.44,124.85 L152.94,124.76 L153.43,124.66 L153.93,124.57 L154.43,124.47 L154.93,124.38 L155.44,124.29 L155.94,124.20 L156.45,124.10 L156.95,124.01 L157.46,123.92 L157.97,123.84 L158.49,123.75 L159.00,123.66 L159.52,123.57 L160.03,123.49 L160.55,123.40 L161.07,123.32 L161.60,123.23 L162.12,123.15 L162.64,123.07 L163.17,122.98 L163.70,122.90 L164.23,122.82 L164.76,122.74 L165.29,122.66 L165.83,122.58 L166.36,122.50 L166.90,122.43 L167.44,122.35 L167.98,122.27 L168.52,122.20 L169.06,122.12 L169.61,122.05 L170.16,121.97 L170.70,121.90 L171.25,121.83 L171.80,121.75 L172.36,121.68 L172.91,121.61 L173.47,121.54 L174.02,121.47 L174.58,121.40 L175.14,121.33 L175.70,121.26 L176.27,121.20 L176.83,121.13 L177.40,121.06 L177.96,121.00 L178.53,120.93 L179.10,120.87 L179.67,120.80 L180.25,120.74 L180.82,120.67 L181.40,120.61 L181.97,120.55 L182.55,120.49 L183.13,120.42 L183.72,120.36 L184.30,120.30 L184.88,120.24 L185.47,120.18 L186.06,120.12 L186.65,120.07 L187.24,120.01 L187.83,119.95 L188.42,119.89 L189.02,119.83 L189.61,119.78 L190.21,119.72 L190.81,119.67 L191.41,119.61 L192.01,119.56 L192.62,119.50 L193.22,119.45 L193.83,119.40 L194.43,119.34 L195.04,119.29 L195.65,119.24 L196.27,119.19 L196.88,119.13 L197.49,119.08 L198.11,119.03 L198.73,118.98 L199.34,118.93 L199.96,118.88 L200.59,118.84 L201.21,118.79 L201.83,118.74 L202.46,118.69 L203.09,118.64 L203.71,118.60 L204.34,118.55 L204.97,118.50 L205.61,118.46 L206.24,118.41 L206.88,118.37 L207.51,118.32 L208.15,118.28 L208.79,118.23 L209.43,118.19 L210.07,118.14 L210.72,118.10 L211.36,118.06 L212.01,118.02 L212.65,117.97 L213.30,117.93 L213.95,117.89 L214.60,117.85 L215.26,117.81 L215.91,117.77 L216.57,117.73 L217.22,117.69 L217.88,117.65 L218.54,117.61 L219.20,117.57 L219.86,117.53 L220.53,117.49 L221.19,117.45 L221.86,117.41 L222.53,117.38 L223.19,117.34 L223.86,117.30 L224.54,117.27 L225.21,117.23 L225.88,117.19 L226.56,117.16 L227.23,117.12 L227.91,117.09 L228.59,117.05 L229.27,117.02 L229.95,116.98 L230.64,116.95 L231.32,116.91 L232.01,116.88 L232.69,116.84 L233.38,116.81 L234.07,116.78 L234.76,116.74 L235.45,116.71 L236.15,116.68 L236.84,116.65 L237.54,116.62 L238.24,116.58 L238.93,116.55 L239.63,116.52 L240.33,116.49 L241.04,116.46 L241.74,116.43 L242.45,116.40 L243.15,116.37 L243.86,116.34 L244.57,116.31 L245.28,116.28 L245.99,116.25 L246.70,116.22 L247.42,116.19 L248.13,116.16 L248.85,116.14 L249.56,116.11 L250.28,116.08 L251.00,116.05 L251.72,116.02 L252.45,116.00 L253.17,115.97 L253.90,115.94 L254.62,115.92 L255.35,115.89 L256.08,115.86 L256.81,115.84 L257.54,115.81 L258.27,115.78 L259.01,115.76 L259.74,115.73 L260.48,115.71 L261.22,115.68 L261.95,115.66 L262.69,115.63 L263.44,115.61 L264.18,115.58 L264.92,115.56 L265.67,115.54 L266.41,115.51 L267.16,115.49 L267.91,115.47 L268.66,115.44 L269.41,115.42 L270.16,115.40 L270.91,115.37 L271.67,115.35 L272.43,115.33 L273.18,115.31 L273.94,115.28 L274.70,115.26 L275.46,115.24 L276.22,115.22 L276.99,115.20 L277.75,115.17 L278.52,115.15 L279.28,115.13 L280.05,115.11 L280.82,115.09 L281.59,115.07 L282.36,115.05 L283.13,115.03 L283.91,115.01 L284.68,114.99 L285.46,114.97 L286.24,114.95 L287.02,114.93 L287.80,114.91 L288.58,114.89 L289.36,114.87 L290.14,114.85 L290.93,114.83 L291.71,114.81 L292.50,114.79" stroke="#00c800" stroke-width="1.9" stroke-dasharray="7.6 7.6" stroke-dashoffset="0.7"/>
<path d="M95.60,152.80 L95.61,152.74 L95.64,152.61 L95.68,152.45 L95.72,152.24 L95.78,152.00 L95.84,151.74 L95.90,151.45 L95.98,151.13 L96.05,150.80 L96.14,150.44 L96.23,150.07 L96.32,149.68 L96.42,149.27 L96.52,148.85 L96.63,148.42 L96.74,147.97 L96.86,147.51 L96.98,147.05 L97.10,146.57 L97.23,146.09 L97.36,145.60 L97.50,145.10 L97.64,144.59 L97.78,144.08 L97.93,143.57 L98.08,143.05 L98.24,142.53 L98.40,142.00 L98.56,141.47 L98.72,140.95 L98.89,140.41 L99.06,139.88 L99.24,139.35 L99.41,138.82 L99.59,138.28 L99.78,137.75 L99.97,137.22 L100.16,136.69 L100.35,136.16 L100.55,135.63 L100.75,135.11 L100.95,134.59 L101.15,134.07 L101.36,133.55 L101.57,133.03 L101.79,132.52 L102.00,132.01 L102.22,131.51 L102.44,131.00 L102.67,130.51 L102.90,130.01 L103.13,129.52 L103.36,129.03 L103.59,128.55 L103.83,128.07 L104.07,127.60 L104.32,127.13 L104.56,126.66 L104.81,126.20 L105.06,125.74 L105.32,125.29 L105.57,124.84 L105.83,124.40 L106.09,123.96 L106.36,123.53 L106.62,123.10 L106.89,122.67 L107.16,122.25 L107.43,121.83 L107.71,121.42 L107.99,121.02 L108.27,120.61 L108.55,120.22 L108.83,119.82 L109.12,119.43 L109.41,119.05 L109.70,118.67 L110.00,118.29 L110.29,117.92 L110.59,117.56 L110.89,117.20 L111.20,116.84 L111.50,116.48 L111.81,116.14 L112.12,115.79 L112.43,115.45 L112.75,115.11 L113.06,114.78 L113.38,114.45 L113.70,114.13 L114.03,113.81 L114.35,113.49 L114.68,113.18 L115.01,112.87 L115.34,112.57 L115.67,112.27 L116.01,111.97 L116.34,111.68 L116.68,111.39 L117.03,111.10 L117.37,110.82 L117.72,110.54 L118.06,110.26 L118.41,109.99 L118.77,109.72 L119.12,109.46 L119.48,109.20 L119.83,108.94 L120.19,108.68 L120.56,108.43 L120.92,108.18 L121.29,107.94 L121.65,107.70 L122.02,107.46 L122.40,107.22 L122.77,106.99 L123.15,106.76 L123.52,106.53 L123.90,106.30 L124.28,106.08 L124.67,105.86 L125.05,105.65 L125.44,105.43 L125.83,105.22 L126.22,105.01 L126.61,104.81 L127.01,104.60 L127.40,104.40 L127.80,104.21 L128.20,104.01 L128.61,103.82 L129.01,103.63 L129.42,103.44 L129.82,103.25 L130.23,103.07 L130.64,102.89 L131.06,102.71 L131.47,102.53 L131.89,102.35 L132.31,102.18 L132.73,102.01 L133.15,101.84 L133.57,101.67 L134.00,101.51 L134.43,101.35 L134.86,101.19 L135.29,101.03 L135.72,100.87 L136.16,100.72 L136.59,100.56 L137.03,100.41 L137.47,100.26 L137.91,100.11 L138.35,99.97 L138.80,99.82 L139.25,99.68 L139.69,99.54 L140.15,99.40 L140.60,99.26 L141.05,99.13 L141.51,98.99 L141.96,98.86 L142.42,98.73 L142.88,98.60 L143.34,98.47 L143.81,98.35 L144.27,98.22 L144.74,98.10 L145.21,97.97 L145.68,97.85 L146.15,97.73 L146.63,97.62 L147.10,97.50 L147.58,97.38 L148.06,97.27 L148.54,97.16 L149.02,97.05 L149.50,96.94 L149.99,96.83 L150.48,96.72 L150.97,96.61 L151.46,96.51 L151.95,96.40 L152.44,96.30 L152.94,96.20 L153.43,96.10 L153.93,96.00 L154.43,95.90 L154.93,95.80 L155.44,95.70 L155.94,95.61 L156.45,95.51 L156.95,95.42 L157.46,95.33 L157.97,95.24 L158.49,95.15 L159.00,95.06 L159.52,94.97 L160.03,94.88 L160.55,94.80 L161.07,94.71 L161.60,94.63 L162.12,94.54 L162.64,94.46 L163.17,94.38 L163.70,94.30 L164.23,94.22 L164.76,94.14 L165.29,94.06 L165.83,93.98 L166.36,93.91 L166.90,93.83 L167.44,93.75 L167.98,93.68 L168.52,93.61 L169.06,93.53 L169.61,93.46 L170.16,93.39 L170.70,93.32 L171.25,93.25 L171.80,93.18 L172.36,93.11 L172.91,93.04 L173.47,92.98 L174.02,92.91 L174.58,92.85 L175.14,92.78 L175.70,92.72 L176.27,92.65 L176.83,92.59 L177.40,92.53 L177.96,92.46 L178.53,92.40 L179.10,92.34 L179.67,92.28 L180.25,92.22 L180.82,92.16 L181.40,92.11 L181.97,92.05 L182.55,91.99 L183.13,91.94 L183.72,91.88 L184.30,91.82 L184.88,91.77 L185.47,91.72 L186.06,91.66 L186.65,91.61 L187.24,91.56 L187.83,91.50 L188.42,91.45 L189.02,91.40 L189.61,91.35 L190.21,91.30 L190.81,91.25 L191.41,91.20 L192.01,91.15 L192.62,91.10 L193.22,91.06 L193.83,91.01 L194.43,90.96 L195.04,90.91 L195.65,90.87 L196.27,90.82 L196.88,90.78 L197.49,90.73 L198.11,90.69 L198.73,90.64 L199.34,90.60 L199.96,90.56 L200.59,90.52 L201.21,90.47 L201.83,90.43 L202.46,90.39 L203.09,90.35 L203.71,90.31 L204.34,90.27 L204.97,90.23 L205.61,90.19 L206.24,90.15 L206.88,90.11 L207.51,90.07 L208.15,90.03 L208.79,89.99 L209.43,89.96 L210.07,89.92 L210.72,89.88 L211.36,89.85 L212.01,89.81 L212.65,89.77 L213.30,89.74 L213.95,89.70 L214.60,89.67 L215.26,89.63 L215.91,89.60 L216.57,89.57 L217.22,89.53 L217.88,89.50 L218.54,89.47 L219.20,89.43 L219.86,89.40 L220.53,89.37 L221.19,89.34 L221.86,89.30 L222.53,89.27 L223.19,89.24 L223.86,89.21 L224.54,89.18 L225.21,89.15 L225.88,89.12 L226.56,89.09 L227.23,89.06 L227.91,89.03 L228.59,89.00 L229.27,88.97 L229.95,88.94 L230.64,88.92 L231.32,88.89 L232.01,88.86 L232.69,88.83 L233.38,88.80 L234.07,88.78 L234.76,88.75 L235.45,88.72 L236.15,88.70 L236.84,88.67 L237.54,88.65 L238.24,88.62 L238.93,88.59 L239.63,88.57 L240.33,88.54 L241.04,88.52 L241.74,88.49 L242.45,88.47 L243.15,88.44 L243.86,88.42 L244.57,88.40 L245.28,88.37 L245.99,88.35 L246.70,88.33 L247.42,88.30 L248.13,88.28 L248.85,88.26 L249.56,88.23 L250.28,88.21 L251.00,88.19 L251.72,88.17 L252.45,88.15 L253.17,88.12 L253.90,88.10 L254.62,88.08 L255.35,88.06 L256.08,88.04 L256.81,88.02 L257.54,88.00 L258.27,87.98 L259.01,87.96 L259.74,87.94 L260.48,87.92 L261.22,87.90 L261.95,87.88 L262.69,87.86 L263.44,87.84 L264.18,87.82 L264.92,87.80 L265.67,87.78 L266.41,87.76 L267.16,87.74 L267.91,87.72 L268.66,87.71 L269.41,87.69 L270.16,87.67 L270.91,87.65 L271.67,87.63 L272.43,87.62 L273.18,87.60 L273.94,87.58 L274.70,87.56 L275.46,87.55 L276.22,87.53 L276.99,87.51 L277.75,87.50 L278.52,87.48 L279.28,87.46 L280.05,87.45 L280.82,87.43 L281.59,87.41 L282.36,87.40 L283.13,87.38 L283.91,87.37 L284.68,87.35 L285.46,87.33 L286.24,87.32 L287.02,87.30 L287.80,87.29 L288.58,87.27 L289.36,87.26 L290.14,87.24 L290.93,87.23 L291.71,87.21 L292.50,87.20" stroke="#000" stroke-width="1.9" stroke-dasharray="9.7 2.3 1.7 2.4" stroke-dashoffset="8.05"/>
<path d="M95.60,50.60 H292.50" stroke="#2020ff" stroke-width="1.6" stroke-dasharray="7.7 1.6 1.65 1.6 1.65 1.2"/>
</g>
<rect x="95.60" y="46.60" width="196.90" height="116.20" fill="none" stroke="#000" stroke-width="1.0"/>
<path d="M120.21,162.80 v-1.30 M120.21,46.60 v1.30 M144.82,162.80 v-2.80 M144.82,46.60 v2.80 M169.44,162.80 v-1.30 M169.44,46.60 v1.30 M194.05,162.80 v-2.80 M194.05,46.60 v2.80 M218.66,162.80 v-1.30 M218.66,46.60 v1.30 M243.28,162.80 v-2.80 M243.28,46.60 v2.80 M267.89,162.80 v-1.30 M267.89,46.60 v1.30 M95.60,152.80 h2.40 M292.50,152.80 h-2.40 M95.60,132.30 h2.40 M292.50,132.30 h-2.40 M95.60,111.80 h2.40 M292.50,111.80 h-2.40 M95.60,91.30 h2.40 M292.50,91.30 h-2.40 M95.60,70.80 h2.40 M292.50,70.80 h-2.40 M95.60,50.30 h2.40 M292.50,50.30 h-2.40" stroke="#222" stroke-width="0.8" fill="none"/>
<rect x="55.00" y="19.50" width="396.00" height="365.30" fill="none" stroke="#000" stroke-width="2"/>
<path d="M154.00,384.80 v-5.5 M154.00,19.50 v5.5 M253.00,384.80 v-5.5 M253.00,19.50 v5.5 M352.00,384.80 v-5.5 M352.00,19.50 v5.5 M55.00,315.28 h5.5 M451.00,315.28 h-5.5 M55.00,245.76 h5.5 M451.00,245.76 h-5.5 M55.00,176.24 h5.5 M451.00,176.24 h-5.5 M55.00,106.72 h5.5 M451.00,106.72 h-5.5 M55.00,37.20 h5.5 M451.00,37.20 h-5.5" stroke="#000" stroke-width="1.4" fill="none"/>
<path d="M104.50,384.80 v-3 M104.50,19.50 v3 M203.50,384.80 v-3 M203.50,19.50 v3 M302.50,384.80 v-3 M302.50,19.50 v3 M401.50,384.80 v-3 M401.50,19.50 v3 M55.00,350.04 h3 M451.00,350.04 h-3 M55.00,280.52 h3 M451.00,280.52 h-3 M55.00,211.00 h3 M451.00,211.00 h-3 M55.00,141.48 h3 M451.00,141.48 h-3 M55.00,71.96 h3 M451.00,71.96 h-3" stroke="#000" stroke-width="0.8" fill="none"/>
<g stroke="#222" stroke-width="0.7" fill="none">
<path d="M417.3,37.7 L411.9,77.2"/>
<path d="M410.1,108.3 L427.8,164.4"/>
<path d="M410.1,108.3 L430.3,225.8"/>
<path d="M410.1,108.3 L424.5,285.8"/>
</g>
<g fill="none">
<path d="M304.2,322.8 H382.2" stroke="#cc0000" stroke-width="2.2"/>
<path d="M304.2,336.6 H382.8" stroke="#00c800" stroke-width="2.3" stroke-dasharray="13.2 12.87"/>
<path d="M304.2,350.5 H382.2" stroke="#000" stroke-width="2.3" stroke-dasharray="13.2 5.1 3 4.77"/>
<path d="M304.2,364.3 H382.2" stroke="#2020ff" stroke-width="2" stroke-dasharray="12.2 3.5 2 3.1 2 3.27"/>
</g>
<g style="font-family:'Liberation Serif',serif;" fill="#000">
<text x="49.3" y="43.20" font-size="17.2" text-anchor="end">1</text>
<text x="49.9" y="112.72" font-size="17.2" text-anchor="end">0.8</text>
<text x="49.9" y="182.24" font-size="17.2" text-anchor="end">0.6</text>
<text x="49.9" y="251.76" font-size="17.2" text-anchor="end">0.4</text>
<text x="49.9" y="321.28" font-size="17.2" text-anchor="end">0.2</text>
<text x="49.9" y="390.80" font-size="17.2" text-anchor="end">0</text>
<text x="55.00" y="401.7" font-size="17.2" text-anchor="middle">1</text>
<text x="154.00" y="401.7" font-size="17.2" text-anchor="middle">1.5</text>
<text x="253.00" y="401.7" font-size="17.2" text-anchor="middle">2</text>
<text x="352.00" y="401.7" font-size="17.2" text-anchor="middle">2.5</text>
<text x="451.00" y="401.7" font-size="17.2" text-anchor="middle">3</text>
<text transform="translate(252.8,419.8) scale(1.07,1)" font-size="24.8" font-style="italic" text-anchor="middle">m</text>
<text x="92.3" y="54.50" font-size="12" text-anchor="end">0.5</text>
<text x="92.3" y="75.00" font-size="12" text-anchor="end">0.4</text>
<text x="92.3" y="95.50" font-size="12" text-anchor="end">0.3</text>
<text x="92.3" y="116.00" font-size="12" text-anchor="end">0.2</text>
<text x="92.3" y="136.50" font-size="12" text-anchor="end">0.1</text>
<text x="92.3" y="157.00" font-size="12" text-anchor="end">0</text>
<text x="95.60" y="173.2" font-size="12.8" text-anchor="middle">1</text>
<text x="144.82" y="173.2" font-size="12.8" text-anchor="middle">1.5</text>
<text x="194.05" y="173.2" font-size="12.8" text-anchor="middle">2</text>
<text x="243.28" y="173.2" font-size="12.8" text-anchor="middle">2.5</text>
<text x="292.50" y="173.2" font-size="12.8" text-anchor="middle">3</text>
<text x="194.3" y="184.4" font-size="16" font-style="italic" text-anchor="middle">m</text>
<text transform="translate(74.3,104.9) rotate(-90)" font-size="12" text-anchor="middle">AMR</text>
<text transform="translate(395.5,328.00) scale(0.935,1)" font-size="17.6">θ=0</text>
<text transform="translate(395.5,341.80) scale(0.935,1)" font-size="17.6">θ=π<tspan dx="1">/</tspan><tspan dx="1">4</tspan></text>
<text transform="translate(395.5,355.60) scale(0.935,1)" font-size="17.6">θ=π<tspan dx="1">/</tspan><tspan dx="1">3</tspan></text>
<text transform="translate(395.5,369.40) scale(0.935,1)" font-size="17.6">θ=π<tspan dx="1">/</tspan><tspan dx="1">2</tspan></text>
<g transform="translate(397.20,89.10) rotate(0)" fill="#000"><path d="M-5.30,0 a5.30,5.75 0 1,0 10.60,0 a5.30,5.75 0 1,0 -10.60,0 Z M-2.90,0.05 a2.90,4.60 0 1,0 5.80,0 a2.90,4.60 0 1,0 -5.80,0 Z" fill-rule="evenodd"/><path d="M-3.68,-4.90 A5.60,6.50 0 0,1 0,-6.50 H7.00 Q7.80,-6.50 7.80,-5.62 Q7.70,-4.90 6.90,-4.90 H-3.68 Z"/></g>
<text x="405.5" y="100.5" font-size="15.5" font-style="italic">xx</text>
<path transform="translate(393.20,80.20) rotate(0)" d="M0,0 C1.15,-2.24 3.06,-2.78 5.16,-1.43 S8.88,0.36 10.70,-2.33" fill="none" stroke="#000" stroke-width="1.15" stroke-linecap="round"/>
<text transform="translate(449.0,284.1) scale(1.1,1)" x="0" y="0" font-size="30.5">}</text>
<g transform="translate(467.25,277.60) rotate(0)" fill="#000"><path d="M-5.25,0 a5.25,5.45 0 1,0 10.50,0 a5.25,5.45 0 1,0 -10.50,0 Z M-2.85,0.05 a2.85,4.30 0 1,0 5.70,0 a2.85,4.30 0 1,0 -5.70,0 Z" fill-rule="evenodd"/><path d="M-3.70,-4.70 A5.55,6.30 0 0,1 0,-6.30 H6.65 Q7.45,-6.30 7.45,-5.42 Q7.35,-4.70 6.55,-4.70 H-3.70 Z"/></g>
<text x="474.5" y="290.0" font-size="14.8">yy</text>
<path transform="translate(463.40,267.50) rotate(0)" d="M0,0 C1.12,-2.24 3.00,-2.78 5.06,-1.43 S8.72,0.36 10.50,-2.33" fill="none" stroke="#000" stroke-width="1.15" stroke-linecap="round"/>
<g transform="translate(19.65,202.75) rotate(-90)" fill="#000"><path d="M-6.65,0 a6.65,6.75 0 1,0 13.30,0 a6.65,6.75 0 1,0 -13.30,0 Z M-4.70,0.05 a4.70,4.80 0 1,0 9.40,0 a4.70,4.80 0 1,0 -9.40,0 Z" fill-rule="evenodd"/><path d="M-4.69,-5.35 A6.95,7.25 0 0,1 0,-7.25 H7.05 Q7.85,-7.25 7.85,-6.21 Q7.75,-5.35 6.95,-5.35 H-4.69 Z"/></g>
<path transform="translate(6.20,207.20) rotate(-90)" d="M0,0 C1.54,-2.93 4.11,-3.63 6.94,-1.88 S11.96,0.47 14.40,-3.05" fill="none" stroke="#000" stroke-width="1.50" stroke-linecap="round"/>
</g>
</svg>
</body></html>
